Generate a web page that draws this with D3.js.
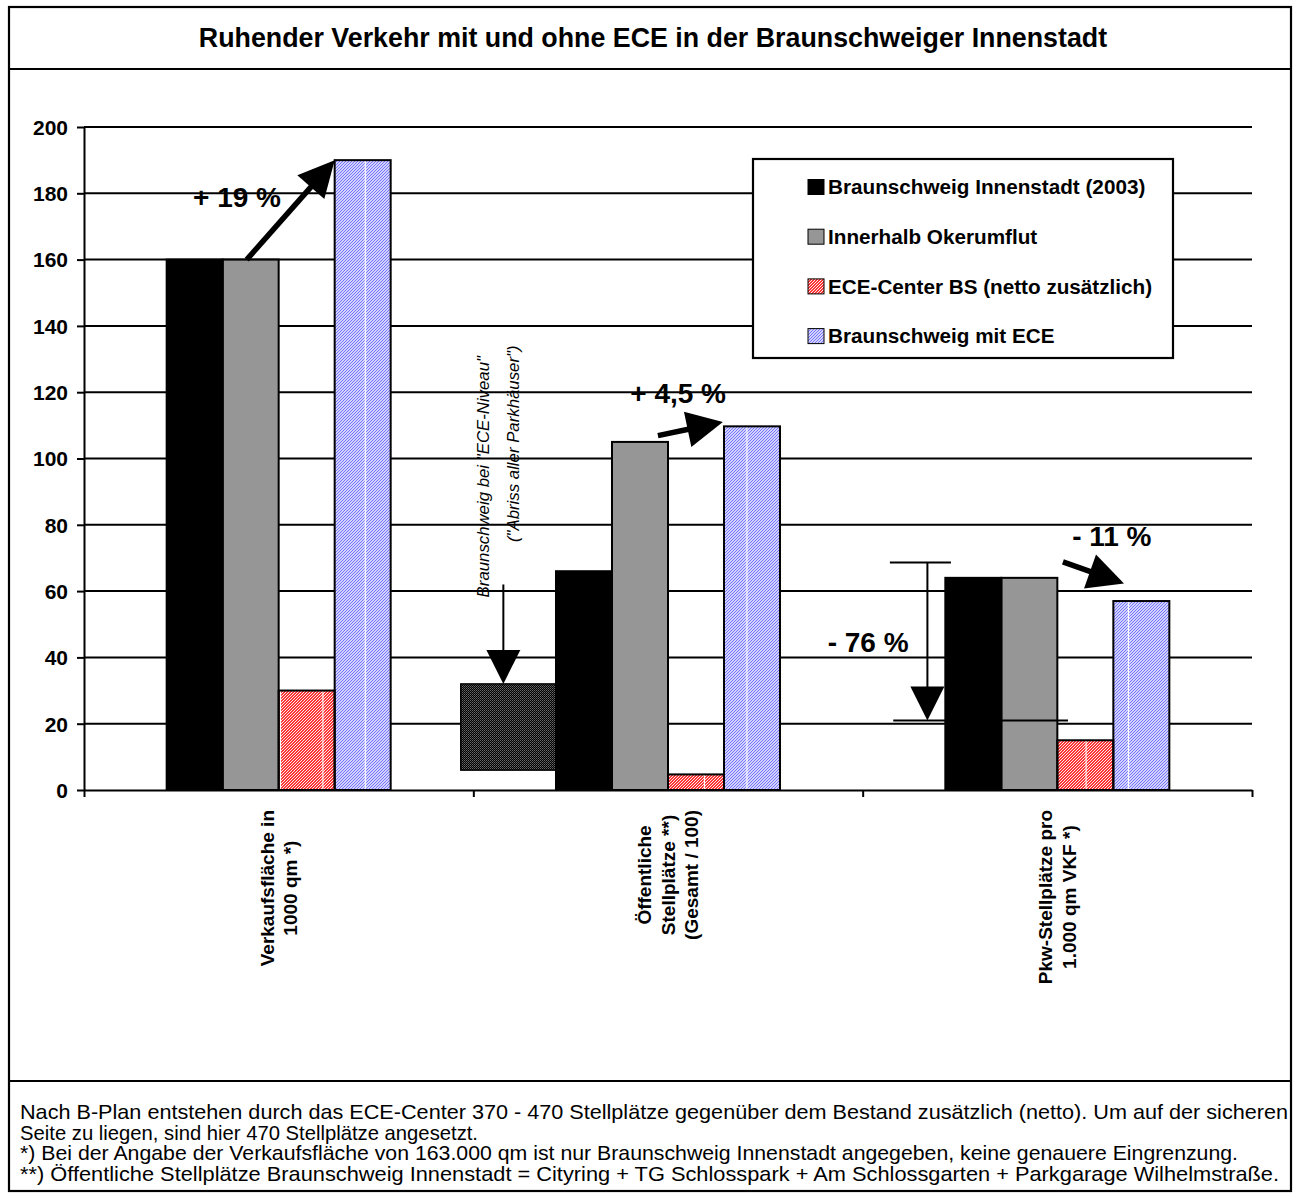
<!DOCTYPE html>
<html><head><meta charset="utf-8">
<script src="https://cdn.jsdelivr.net/npm/d3@7"></script>
<style>
body{margin:0;background:#fff}
svg{display:block}
text{font-family:"Liberation Sans",Arial,sans-serif;fill:#000}
</style>
</head><body>
<svg id="c" width="1299" height="1198"></svg>
<script>
// ---------- data ----------
const titleText = "Ruhender Verkehr mit und ohne ECE in der Braunschweiger Innenstadt";
const categories = [
  ["Verkaufsfläche in", "1000 qm *)"],
  ["Öffentliche", "Stellplätze **)", "(Gesamt / 100)"],
  ["Pkw-Stellplätze pro", "1.000 qm VKF *)"]
];
const seriesNames = ["Braunschweig Innenstadt (2003)", "Innerhalb Okerumflut", "ECE-Center BS (netto zusätzlich)", "Braunschweig mit ECE"];
const innenstadt = [160, 66, 64];
const okerumflut = [160, 105, 64];
const eceCenter = [30, 4.7, 15];
const mitEce = [190, 109.7, 57];
const yTicks = [0, 20, 40, 60, 80, 100, 120, 140, 160, 180, 200];
const eceNiveau = [6, 32];              // "ECE-Niveau" range in category 2
const eceNiveauText = ["Braunschweig bei \"ECE-Niveau\"", "(\"Abriss aller Parkhäuser\")"];
const changeLabels = ["+ 19 %", "+ 4,5 %", "- 11 %"];
const changeFrom = [160, 106.9, 68.8];  // arrow start values
const changeTo = [190, 111, 62.3];      // arrow end values
const reductionLabel = "- 76 %";
const reductionRange = [68.6, 21];
const footerLines = [
  "Nach B-Plan entstehen durch das ECE-Center 370 - 470 Stellplätze gegenüber dem Bestand zusätzlich (netto). Um auf der sicheren",
  "Seite zu liegen, sind hier 470 Stellplätze angesetzt.",
  "*) Bei der Angabe der Verkaufsfläche von 163.000 qm ist nur Braunschweig Innenstadt angegeben, keine genauere Eingrenzung.",
  "**) Öffentliche Stellplätze Braunschweig Innenstadt = Cityring + TG Schlosspark + Am Schlossgarten + Parkgarage Wilhelmstraße."
];

const seriesData = [innenstadt, okerumflut, eceCenter, mitEce];

// ---------- setup ----------
const svg = d3.select("#c");
const defs = svg.append("defs");

// hatch patterns
const pr = defs.append("pattern").attr("id", "hRed").attr("patternUnits", "userSpaceOnUse").attr("width", 3).attr("height", 3);
pr.append("rect").attr("width", 3).attr("height", 3).attr("fill", "#ff3535");
pr.append("path").attr("d", "M-1,1 L1,-1 M0,3 L3,0 M2,4 L4,2").attr("stroke", "#ffffff").attr("stroke-width", 0.9);

const pb = defs.append("pattern").attr("id", "hBlue").attr("patternUnits", "userSpaceOnUse").attr("width", 3).attr("height", 3);
pb.append("rect").attr("width", 3).attr("height", 3).attr("fill", "#ffffff");
pb.append("path").attr("d", "M-1,1 L1,-1 M0,3 L3,0 M2,4 L4,2").attr("stroke", "#6e6eff").attr("stroke-width", 1.15);

const pd = defs.append("pattern").attr("id", "hDark").attr("patternUnits", "userSpaceOnUse").attr("width", 2).attr("height", 2);
pd.append("rect").attr("width", 2).attr("height", 2).attr("fill", "#000");
pd.append("rect").attr("width", 1).attr("height", 1).attr("fill", "#6a6a6a");
pd.append("rect").attr("x", 1).attr("y", 1).attr("width", 1).attr("height", 1).attr("fill", "#4a4a4a");

const ps = defs.append("pattern").attr("id", "seam").attr("patternUnits", "userSpaceOnUse").attr("width", 42.4).attr("height", 10);
ps.append("rect").attr("x", 25.5).attr("width", 1.2).attr("height", 10).attr("fill", "#ffffff");

const fills = ["#000000", "#969696", "url(#hRed)", "url(#hBlue)"];

// frame
svg.append("rect").attr("x", 9).attr("y", 7).attr("width", 1282).attr("height", 1184)
  .attr("fill", "none").attr("stroke", "#000").attr("stroke-width", 2.2);
svg.append("line").attr("x1", 9).attr("x2", 1291).attr("y1", 69).attr("y2", 69).attr("stroke", "#000").attr("stroke-width", 2.2);
svg.append("line").attr("x1", 9).attr("x2", 1291).attr("y1", 1081).attr("y2", 1081).attr("stroke", "#000").attr("stroke-width", 2.2);

svg.append("text").attr("x", 653).attr("y", 38).attr("dy", "0.35em").attr("text-anchor", "middle")
  .attr("font-weight", "bold").attr("font-size", 26.8).text(titleText);

// scales
const x = d3.scaleBand().domain(d3.range(categories.length)).range([84, 1252]).paddingInner(0).paddingOuter(0);
const xs = d3.scaleBand().domain(d3.range(seriesData.length)).range([0, x.bandwidth()]).paddingInner(0).paddingOuter(1.476);
const y = d3.scaleLinear().domain([0, 200]).range([790, 127]);
const bw = xs.bandwidth();
const barX = (c, s, f) => x(c) + xs(s) + f * bw;
const catX = (c, f) => x(c) + f * x.bandwidth();

// gridlines
svg.append("g").selectAll("line").data(yTicks.filter(d => d > 0)).join("line")
  .attr("x1", x.range()[0]).attr("x2", x.range()[1])
  .attr("y1", d => y(d)).attr("y2", d => y(d))
  .attr("stroke", "#000").attr("stroke-width", 2);

// y axis
const ya = svg.append("g").attr("transform", `translate(${x.range()[0]},0)`)
  .call(d3.axisLeft(y).tickValues(yTicks).tickSize(7).tickPadding(9).tickSizeOuter(0));
ya.select(".domain").attr("stroke-width", 2);
ya.selectAll(".tick line").attr("stroke-width", 2);
ya.selectAll(".tick text").attr("font-family", "Liberation Sans, Arial, sans-serif").attr("font-size", 21).attr("font-weight", "bold").attr("dy", "0.35em");

// ECE-Niveau box (category 2)
svg.append("rect")
  .attr("x", barX(1, 0, -1.7)).attr("width", 1.7 * bw)
  .attr("y", y(eceNiveau[1])).attr("height", y(eceNiveau[0]) - y(eceNiveau[1]))
  .attr("fill", "url(#hDark)").attr("stroke", "#000").attr("stroke-width", 1.5);

// bars
const bars = [];
categories.forEach((c, ci) => seriesData.forEach((arr, si) => bars.push({ci, si, v: arr[ci]})));
const bg = svg.append("g");
bg.selectAll("rect.bar").data(bars).join("rect").attr("class", "bar")
  .attr("x", d => x(d.ci) + xs(d.si)).attr("width", bw)
  .attr("y", d => y(d.v)).attr("height", d => y(0) - y(d.v))
  .attr("fill", d => fills[d.si]);
bg.selectAll("rect.seam").data(bars.filter(d => d.si >= 2)).join("rect").attr("class", "seam")
  .attr("x", d => x(d.ci) + xs(d.si)).attr("width", bw)
  .attr("y", d => y(d.v)).attr("height", d => y(0) - y(d.v))
  .attr("fill", "url(#seam)");
bg.selectAll("rect.outline").data(bars).join("rect").attr("class", "outline")
  .attr("x", d => x(d.ci) + xs(d.si)).attr("width", bw)
  .attr("y", d => y(d.v)).attr("height", d => y(0) - y(d.v))
  .attr("fill", "none").attr("stroke", "#000").attr("stroke-width", 2);

// x axis
const xl = d3.scaleLinear().domain([0, categories.length]).range(x.range());
const xa = svg.append("g").attr("transform", `translate(0,${y(0)})`)
  .call(d3.axisBottom(xl).tickValues(d3.range(categories.length + 1)).tickSize(7).tickSizeOuter(0).tickFormat(""));
xa.select(".domain").attr("stroke-width", 2);
xa.selectAll(".tick line").attr("stroke-width", 2);

// category labels (rotated, top aligned block, lines centered)
const catFs = 19, catLh = 23.5, catTop = 810;
categories.forEach((lines, ci) => {
  const cx = x(ci) + x.bandwidth() / 2;
  const g = svg.append("g");
  const ts = lines.map((t, k) => g.append("text").attr("font-size", catFs).attr("font-weight", "bold")
    .attr("text-anchor", "middle").attr("dy", "0.35em").text(t));
  const maxLen = d3.max(ts, t => t.node().getComputedTextLength());
  ts.forEach((t, k) => {
    const lx = cx + (k - (lines.length - 1) / 2) * catLh;
    const ly = catTop + maxLen / 2;
    t.attr("transform", `translate(${lx},${ly}) rotate(-90)`);
  });
});

// arrows
function arrow(x1, y1, x2, y2, sw, hl, hw) {
  const dx = x2 - x1, dy = y2 - y1, L = Math.hypot(dx, dy);
  const ux = dx / L, uy = dy / L, px = -uy, py = ux;
  const bx = x2 - ux * hl, by = y2 - uy * hl;
  svg.append("line").attr("x1", x1).attr("y1", y1).attr("x2", bx + ux * 2).attr("y2", by + uy * 2)
    .attr("stroke", "#000").attr("stroke-width", sw);
  svg.append("path").attr("d", `M${x2},${y2}L${bx + px * hw},${by + py * hw}L${bx - px * hw},${by - py * hw}Z`).attr("fill", "#000");
}

// change arrows
arrow(barX(0, 1, 0.43), y(changeFrom[0]), barX(0, 3, 0), y(changeTo[0]), 5.5, 36, 18);
arrow(barX(1, 1, 0.82), y(changeFrom[1]), barX(1, 3, -0.02), y(changeTo[1]), 5.5, 36, 18);
arrow(barX(2, 2, 0.1), y(changeFrom[2]), barX(2, 3, 0.19), y(changeTo[2]), 5.5, 36, 18);

const bigLbl = (t, cx, v) => svg.append("text").attr("x", cx).attr("y", y(v)).attr("text-anchor", "middle")
  .attr("font-size", 28).attr("font-weight", "bold").text(t);
bigLbl(changeLabels[0], catX(0, 0.393), 176);
bigLbl(changeLabels[1], catX(1, 0.526), 116.6);
bigLbl(changeLabels[2], catX(2, 0.64), 73.5);
bigLbl(reductionLabel, catX(2, 0.014), 41.6);

// -76 % dimension arrow
svg.append("line").attr("x1", barX(2, 0, -0.99)).attr("x2", barX(2, 0, 0.1))
  .attr("y1", y(reductionRange[0])).attr("y2", y(reductionRange[0])).attr("stroke", "#000").attr("stroke-width", 2);
svg.append("line").attr("x1", barX(2, 0, -0.93)).attr("x2", barX(2, 2, 0.19))
  .attr("y1", y(reductionRange[1])).attr("y2", y(reductionRange[1])).attr("stroke", "#000").attr("stroke-width", 2);
arrow(barX(2, 0, -0.32), y(reductionRange[0]), barX(2, 0, -0.32), y(reductionRange[1]), 2, 34, 17);

// ECE-Niveau arrow + text
arrow(barX(1, 0, -0.94), y(62), barX(1, 0, -0.94), y(eceNiveau[1]), 2, 34, 17);
svg.append("text").attr("transform", `translate(${barX(1, 0, -1.3)},${y(58.1)}) rotate(-90)`)
  .attr("dy", "0.35em").attr("font-size", 16.8).attr("font-style", "italic").text(eceNiveauText[0]);
svg.append("text").attr("transform", `translate(${barX(1, 0, -0.77)},${y(74.8)}) rotate(-90)`)
  .attr("dy", "0.35em").attr("font-size", 16.8).attr("font-style", "italic").text(eceNiveauText[1]);

// legend
const lg = svg.append("g").attr("transform", "translate(753,159)");
lg.append("rect").attr("width", 420).attr("height", 199).attr("fill", "#fff").attr("stroke", "#000").attr("stroke-width", 2.2);
seriesNames.forEach((n, i) => {
  const cy = 28 + i * 49.7;
  lg.append("rect").attr("x", 55).attr("y", cy - 7.5).attr("width", 16).attr("height", 15)
    .attr("fill", fills[i]).attr("stroke", "#000").attr("stroke-width", 1);
  lg.append("text").attr("x", 75).attr("y", cy).attr("dy", "0.35em").attr("font-size", 20.7).attr("font-weight", "bold").text(n);
});

// footer (lines stretched to the widths they occupy in the original layout)
const footerWidths = [1268, 458, 1218, 1259];
footerLines.forEach((t, i) => {
  svg.append("text").attr("x", 20).attr("y", 1119 + i * 20.5).attr("font-size", 20.3)
    .attr("textLength", footerWidths[i]).attr("lengthAdjust", "spacingAndGlyphs").text(t);
});
</script>
</body></html>
